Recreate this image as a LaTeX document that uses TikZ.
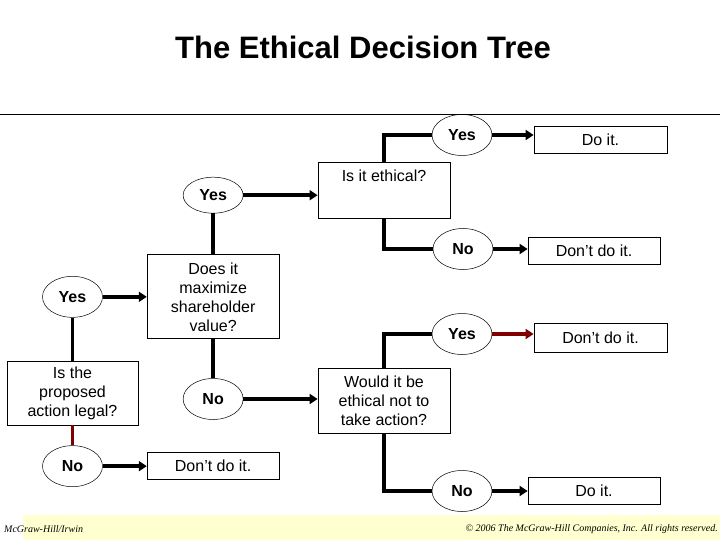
\documentclass[tikz,border=0pt]{standalone}
\usepackage{fontspec}
\setmainfont{Liberation Sans}
\newfontfamily\footfont{Liberation Serif}
\usepackage{tikz}
\usetikzlibrary{arrows.meta,positioning,shapes.geometric}
\definecolor{noline}{RGB}{128,0,0}
\definecolor{footband}{RGB}{255,255,208}

\begin{document}
\begin{tikzpicture}[
  x=1pt, y=-1pt,
  box/.style={draw, line width=0.8pt, align=center, font=\fontsize{16}{19}\selectfont, inner sep=3pt, minimum width=132pt},
  qbox/.style={box},
  abox/.style={box, minimum height=27pt},
  yn/.style={ellipse, draw, line width=0.5pt, font=\fontsize{16}{19}\selectfont\bfseries, inner sep=0pt, minimum width=60pt, minimum height=41pt},
  link/.style={line width=3.5pt},
  arr/.style={link, -{Triangle[length=8pt,width=10pt]}},
  foot/.style={font=\fontsize{10}{12}\footfont\itshape, inner sep=0pt},
]
\useasboundingbox (0,0) rectangle (720,540);
\node[font=\fontsize{31}{36}\selectfont\bfseries] (title) at (363,47) {The Ethical Decision Tree};
\draw[line width=0.8pt] (0,114) -- (720,114);
\node[qbox, minimum width=131pt, minimum height=64pt] (legal) at (72.5,393) {Is the\\proposed\\action legal?};
\node[yn, above=43pt of legal] (yesA) {Yes};
\node[yn, below=20pt of legal] (noA) {No};
\node[qbox, minimum height=84pt, right=44pt of yesA] (maxv) {Does it\\maximize\\shareholder\\value?};
\node[abox, right=44pt of noA] (dontA) {Don’t do it.};
\node[yn, minimum height=36pt, above=41pt of maxv] (yesB) {Yes};
\node[yn, below=39pt of maxv] (noB) {No};
\node[qbox, minimum height=56pt, text height=17pt, text depth=33pt] (ethical) at (384,190) {Is it ethical?};
\node[qbox, minimum height=65pt] (notact) at (384,400.5) {Would it be\\ethical not to\\take action?};
\node[yn] (yesC) at (462,135) {Yes};
\node[yn] (noC) at (463,249) {No};
\node[yn] (yesD) at (462,334) {Yes};
\node[yn] (noD) at (462,491) {No};
\node[abox, minimum width=133pt] (doC) at (600.5,140) {Do it.};
\node[abox] (dontC) at (594,250.5) {Don’t do it.};
\node[abox, minimum width=133pt, minimum height=29pt] (dontD) at (600.5,337.5) {Don’t do it.};
\node[abox] (doD) at (594,490.5) {Do it.};
\draw[link] (legal) -- (yesA);
\draw[link, noline] (legal) -- (noA);
\draw[arr] (yesA) -- (maxv);
\draw[arr] (noA) -- (dontA);
\draw[link] (maxv) -- (yesB);
\draw[link] (maxv) -- (noB);
\draw[arr] (yesB.east) -- (yesB.east -| ethical.west);
\draw[arr] (noB.east) -- (noB.east -| notact.west);
\draw[link] (ethical.north) |- (yesC.west);
\draw[arr] (yesC.east) -- (yesC.east -| doC.west);
\draw[link] (ethical.south) |- (noC.west);
\draw[arr] (noC.east) -- (noC.east -| dontC.west);
\draw[link] (notact.north) |- (yesD.west);
\draw[arr, noline] (yesD.east) -- (yesD.east -| dontD.west);
\draw[link] (notact.south) |- (noD.west);
\draw[arr] (noD.east) -- (noD.east -| doD.west);
\fill[footband] (23,515) rectangle (720,540);
\node[foot, anchor=west] (brand) at (4,529) {McGraw-Hill/Irwin};
\node[foot, anchor=east] (rights) at (718,529) {© 2006 The McGraw-Hill Companies, Inc. All rights reserved.};
\end{tikzpicture}
\end{document}
